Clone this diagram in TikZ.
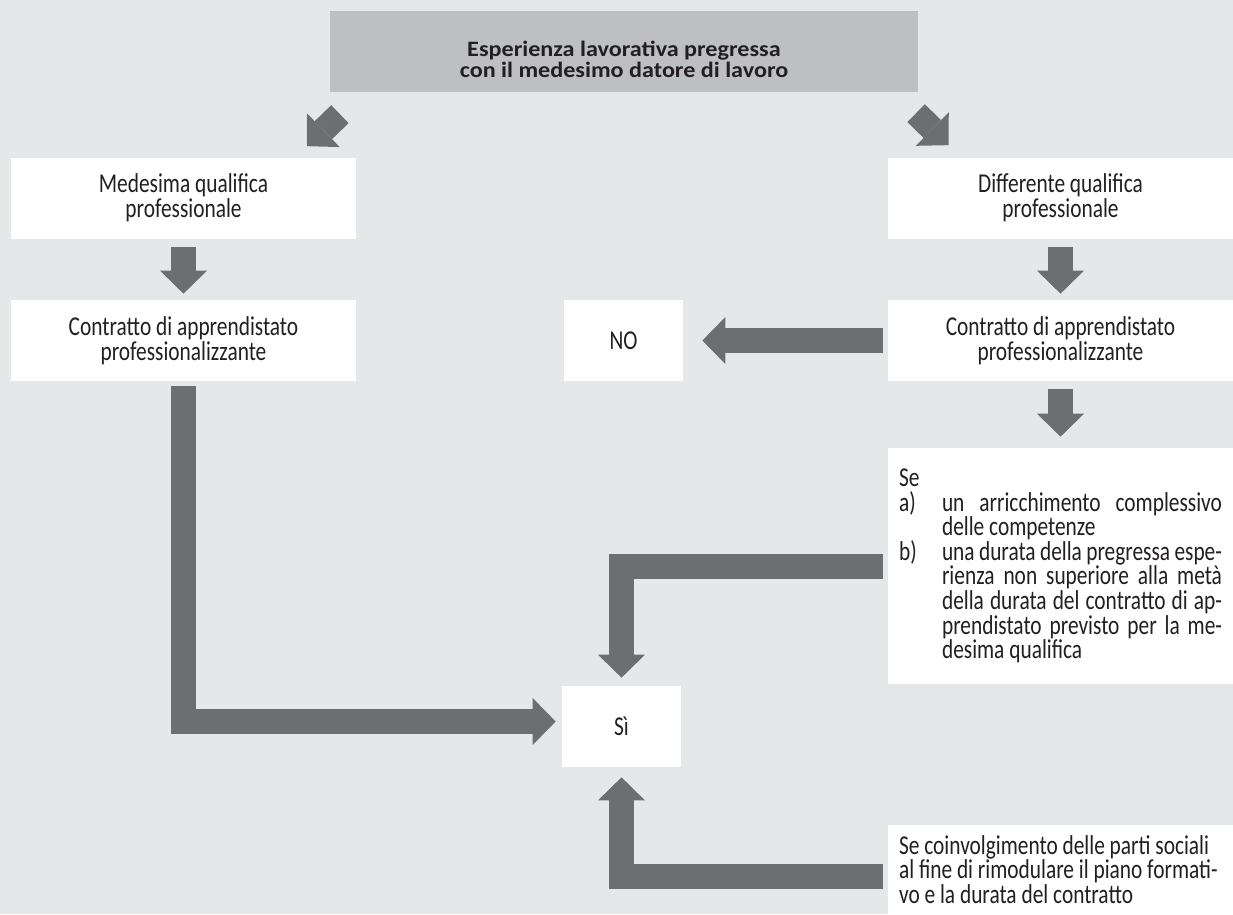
\documentclass[tikz,border=0pt]{standalone}
\usepackage{fontspec}
\setmainfont{Carlito}[FakeStretch=0.785]
\newfontfamily\titlefont{Carlito}[FakeStretch=1.1]
\usepackage{xcolor}
\usetikzlibrary{calc,arrows.meta}

\definecolor{bggray}{RGB}{230,231,232}
\definecolor{headgray}{RGB}{190,191,193}
\definecolor{arrowgray}{RGB}{109,110,113}
\definecolor{inkblack}{RGB}{35,31,32}

\tikzset{
    box/.style={fill=white, text=inkblack, minimum width=6.92cm, minimum height=1.62cm,
        inner sep=0pt, align=center, font=\fontsize{15.5}{14}\selectfont},
    smallbox/.style={box, minimum width=2.38cm},
    textbox/.style={box, minimum width=6.9cm, inner xsep=0.22cm, text width=6.46cm, align=flush left},
    bigarrow/.style={draw=arrowgray, line width=0.5cm,
        -{Triangle[width=0.94cm,length=0.46cm,line width=0pt]}},
}

\begin{document}
\begin{tikzpicture}[x=0.02cm, y=-0.02cm]
        \fill[bggray] (0,0) rectangle (1233,914);
        \useasboundingbox (0,0) rectangle (1233,914);

        \node[fill=headgray, minimum width=11.76cm, minimum height=1.62cm, inner sep=0pt,
            label={[yshift=-0.16cm, text=inkblack, align=center,
                font=\titlefont\bfseries\fontsize{12.5}{9.2}\selectfont]center:{Esperienza lavorativa pregressa\\con il medesimo datore di lavoro}}]
            (esp) at (624,51.5) {};

        \node[box] (qsame) at (183.5,198) {Medesima qualifica\\professionale};
        \node[box, minimum width=6.9cm] (qdiff) at (1060.5,198) {Differente qualifica\\professionale};
        \node[box] (csame) at (183.5,340.5) {Contratto di apprendistato\\professionalizzante};
        \node[box, minimum width=6.9cm] (cdiff) at (1060.5,340.5) {Contratto di apprendistato\\professionalizzante};
        \node[smallbox] (no) at (623.5,340.5) {NO};
        \node[smallbox] (si) at (621.5,726.5) {Sì};

        \node[textbox, minimum height=4.72cm] (cond) at (1060.5,566)
            {\spaceskip=0pt\xspaceskip=0pt
            Se\\
            \makebox[0.86cm][l]{a)}\makebox[5.6cm][s]{un arricchimento complessivo}\\
            \hspace*{0.86cm}delle competenze\\
            \makebox[0.86cm][l]{b)}\makebox[5.6cm][s]{una durata della pregressa espe-}\\
            \hspace*{0.86cm}\makebox[5.6cm][s]{rienza non superiore alla metà}\\
            \hspace*{0.86cm}\makebox[5.6cm][s]{della durata del contratto di ap-}\\
            \hspace*{0.86cm}\makebox[5.6cm][s]{prendistato previsto per la me-}\\
            \hspace*{0.86cm}desima qualifica};

        \node[textbox, minimum height=1.78cm] (parti) at (1060.5,869.5)
            {\spaceskip=0pt\xspaceskip=0pt
            Se coinvolgimento delle parti sociali\\al fine di rimodulare il piano formati-\\vo e la durata del contratto};

        % frecce
        \draw[bigarrow] ($(esp.south west)+(10.2,21.8)$) -- ($(qsame.north east)+(-50,-11)$);
        \draw[bigarrow] ($(esp.south east)+(-2.2,20.8)$) -- ($(qdiff.north west)+(61,-12)$);

        \draw[bigarrow, shorten <=0.16cm, shorten >=0.12cm] (qsame) -- (csame);
        \draw[bigarrow, shorten <=0.16cm, shorten >=0.12cm] (qdiff) -- (cdiff);
        \draw[bigarrow, shorten <=0.16cm, shorten >=0.22cm] (cdiff) -- (cond);
        \draw[bigarrow, shorten <=0.1cm, shorten >=0.38cm] (cdiff) -- (no);

        \draw[bigarrow, shorten <=0.1cm, shorten >=0.12cm] (csame) |- ($(si.west)+(0,-5)$);
        \draw[bigarrow, shorten <=0.1cm, shorten >=0.16cm] (cond) -| (si);
        \draw[bigarrow, shorten <=0.1cm, shorten >=0.2cm] ($(parti.west)+(0,7)$) -| (si);
    \end{tikzpicture}
\end{document}
